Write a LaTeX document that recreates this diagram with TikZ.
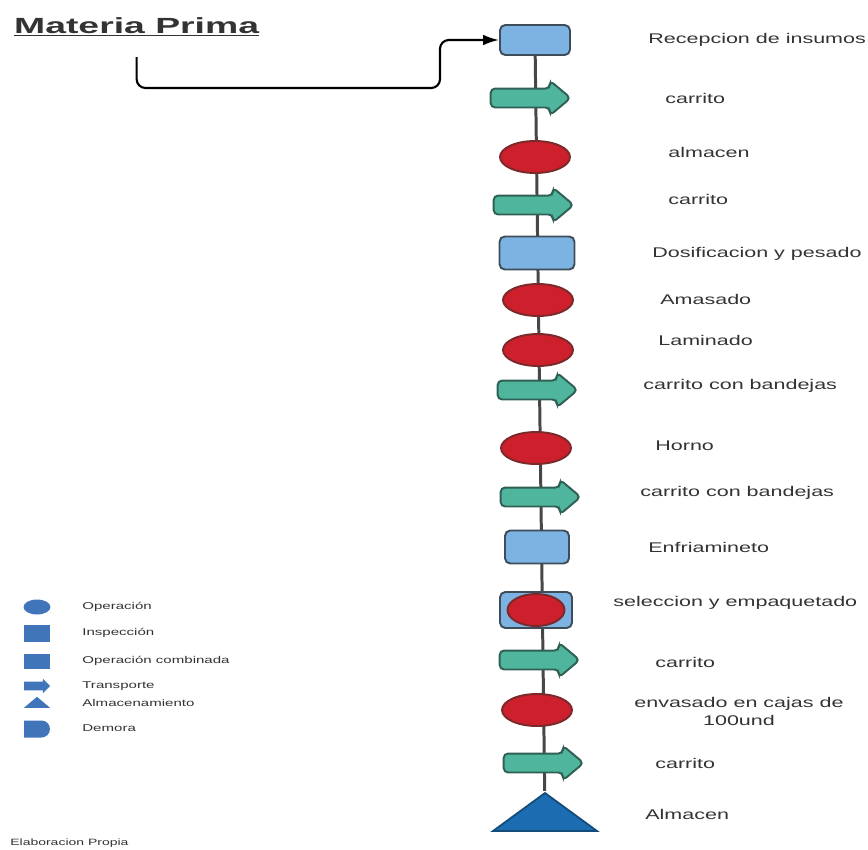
\documentclass[tikz,border=0pt]{standalone}
\usepackage{xcolor}
\usepackage{fontspec}
\usepackage{tikz}
\usetikzlibrary{positioning, shapes.geometric, shapes.arrows, shapes.misc, arrows.meta, backgrounds}

\newfontfamily\lblfont{Liberation Sans}[FakeStretch=1.53]
\newfontfamily\ttlfont{Liberation Sans}[FakeStretch=1.7]

\definecolor{boxblue}{HTML}{7DB3E3}
\definecolor{edgegray}{HTML}{3F4D5A}
\definecolor{tealfill}{HTML}{4FB59C}
\definecolor{tealedge}{HTML}{2F5F55}
\definecolor{opred}{HTML}{CE1F2C}
\definecolor{rededge}{HTML}{7A2A2A}
\definecolor{storeblue}{HTML}{1B6CB0}
\definecolor{keyblue}{HTML}{4075BA}
\definecolor{inkgray}{HTML}{333333}

\begin{document}
\begin{tikzpicture}[x=0.02cm, y=-0.02cm,
  inspbox/.style={draw=edgegray, fill=boxblue, line width=1.1pt, rounded corners=3pt,
    minimum width=1.4cm, minimum height=0.6cm, inner sep=0},
  opell/.style={ellipse, draw=rededge, fill=opred, line width=1.1pt,
    minimum width=1.4cm, minimum height=0.64cm, inner sep=0},
  carry/.style={single arrow, draw=tealedge, fill=tealfill, line width=1.1pt, rounded corners=2.5pt,
    minimum height=1.6cm, minimum width=0.66cm, single arrow head extend=0.16cm,
    single arrow tip angle=80, inner xsep=0, inner ysep=0.17cm},
  store/.style={isosceles triangle, shape border rotate=90, isosceles triangle stretches,
    draw=storeblue!70!black, fill=storeblue, line width=1pt,
    minimum width=2.08cm, minimum height=0.76cm, inner sep=0},
  lbl/.style={anchor=west, inner xsep=0, text=inkgray, font=\lblfont\fontsize{8}{10.2}\selectfont},
  keytxt/.style={anchor=west, inner xsep=0, text=inkgray, font=\lblfont\fontsize{5.6}{6.6}\selectfont},
  keysym/.style={fill=keyblue, draw=none, inner sep=0},
  flowline/.style={draw=inkgray!90, line width=1.7pt},
]
\useasboundingbox (0,0) rectangle (868,849);

% title %
\node[anchor=west, text=inkgray, font=\ttlfont\bfseries\fontsize{12.5}{15}\selectfont] (mp) at (8,27) {\underline{Materia Prima}};
\coordinate (turn) at (440,88);

% nodes %
\node[inspbox] (recv) at (535,40) {};
\node[carry] (c1) at (525,98) {};
\node[opell] (alm1) at (535,157) {};
\node[carry] (c2) at (528,205) {};
\node[inspbox, minimum width=1.5cm, minimum height=0.66cm] (dos) at (537,253) {};
\node[opell] (ama) at (538,300) {};
\node[opell] (lam) at (538,350) {};
\node[carry] (c3) at (532,390) {};
\node[opell] (hor) at (536,448) {};
\node[carry] (c4) at (535,497) {};
\node[inspbox, minimum width=1.28cm, minimum height=0.66cm] (enf) at (537,547) {};
\node[inspbox, minimum width=1.44cm, minimum height=0.72cm] (sel) at (536,610) {};
\node[opell, minimum width=1.14cm] (selop) at (536,610) {};
\node[carry] (c5) at (534,660) {};
\node[opell] (env) at (537,710) {};
\node[carry] (c6) at (538,763) {};
\node[store] (alm2) at (545,814) {};

% labels %
\node[lbl] (trecv) at (648,40) {Recepcion de insumos};
\node[lbl] (tc1) at (665,98) {carrito};
\node[lbl] (talm1) at (668,152) {almacen};
\node[lbl] (tc2) at (668,199) {carrito};
\node[lbl] (tdos) at (652,254) {Dosificacion y pesado};
\node[lbl] (tama) at (660,299) {Amasado};
\node[lbl] (tlam) at (658,340) {Laminado};
\node[lbl] (tc3) at (643,386) {carrito con bandejas};
\node[lbl] (thor) at (655,446) {Horno};
\node[lbl] (tc4) at (640,493) {carrito con bandejas};
\node[lbl] (tenf) at (648,547) {Enfriamineto};
\node[lbl] (tsel) at (613,603) {seleccion y empaquetado};
\node[lbl] (tc5) at (655,662) {carrito};
\node[lbl, align=center] (tenv) at (634,711) {envasado en cajas de\\100und};
\node[lbl] (tc6) at (655,763) {carrito};
\node[lbl] (talm2) at (645,814) {Almacen};

% legend %
\node[keysym, ellipse, minimum width=0.54cm, minimum height=0.3cm] (kop) at (37,607) {};
\node[keysym, minimum width=0.52cm, minimum height=0.34cm] (kin) at (37,633) {};
\node[keysym, minimum width=0.52cm, minimum height=0.3cm] (kcomb) at (37,661) {};
\node[keysym, single arrow, minimum height=0.52cm, minimum width=0.28cm, single arrow head extend=0.06cm,
  inner xsep=0, inner ysep=0.08cm] (ktr) at (35,686) {};
\node[keysym, isosceles triangle, shape border rotate=90, isosceles triangle stretches, minimum width=0.52cm, minimum height=0.22cm] (kst) at (37,703) {};
\node[keysym, rounded rectangle, rounded rectangle left arc=none, minimum width=0.52cm, minimum height=0.34cm] (kdem) at (37,729) {};

\node[keytxt] (top) at (82,607) {Operación};
\node[keytxt] (tin) at (82,633) {Inspección};
\node[keytxt] (tcomb) at (82,661) {Operación combinada};
\node[keytxt] (ttr) at (82,686) {Transporte};
\node[keytxt] (tst) at (82,703) {Almacenamiento};
\node[keytxt] (tdem) at (82,728) {Demora};

\node[keytxt, font=\lblfont\fontsize{5.2}{6}\selectfont] (src) at (10,843) {Elaboracion Propia};

% edges %
\begin{scope}[on background layer]
\draw[flowline] (recv) -- (alm2);
\end{scope}

\draw[-{Latex[length=9pt, width=6pt]}, line width=1.2pt, rounded corners=5pt, shorten <=8pt]
  (mp.south) |- (turn) |- (recv.west);

\end{tikzpicture}
\end{document}
